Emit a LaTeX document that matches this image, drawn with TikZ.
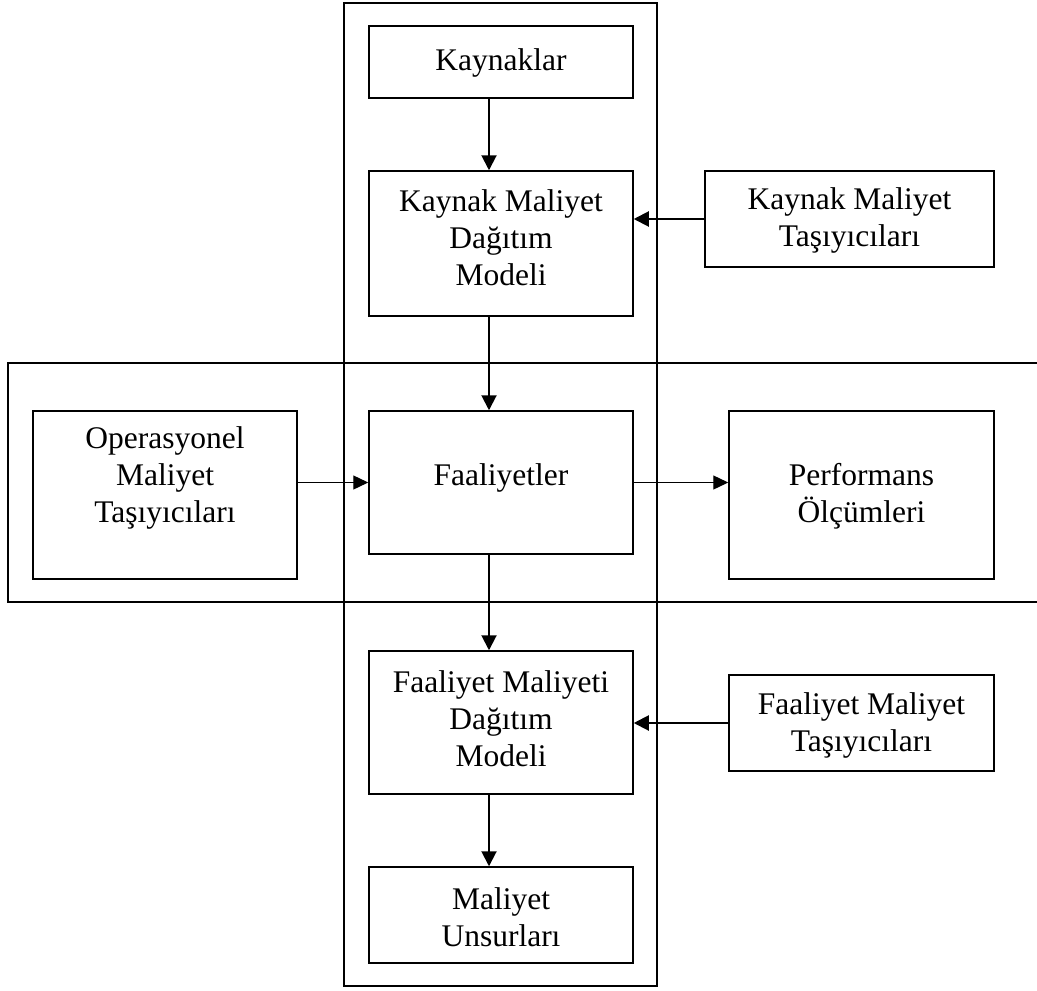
\documentclass[tikz,border=0pt]{standalone}
\usepackage{fontspec}
\setmainfont{Liberation Serif}
\usetikzlibrary{arrows.meta}

\begin{document}
\begin{tikzpicture}[x=0.5pt,y=-0.5pt,
  box/.style={draw, line width=0.75pt, inner sep=0pt},
  txt/.style={align=center, inner sep=0pt, font=\fontsize{15.75pt}{18.5pt}\selectfont},
  frame/.style={line width=0.7pt},
  flow/.style={line width=1pt, -{Triangle[length=7.5pt,width=7.5pt]}},
  thinflow/.style={line width=0.65pt, -{Triangle[length=7.5pt,width=7pt]}}]

\useasboundingbox (0,0) rectangle (1037,990);

% enclosing frames
\draw[frame] (344,3) rectangle (657,986);
\draw[frame] (1037,363) -- (8,363) -- (8,602) -- (1037,602);

% boxes
\node[box, minimum width=132pt,   minimum height=36pt]   (kay)  at (501,62)    {};
\node[box, minimum width=132pt,   minimum height=72.5pt] (kmdm) at (501,243.5) {};
\node[box, minimum width=144.5pt, minimum height=48pt]   (kmt)  at (849.5,219) {};
\node[box, minimum width=132pt,   minimum height=84pt]   (op)   at (165,495)   {};
\node[box, minimum width=132pt,   minimum height=71.5pt] (faal) at (501,482.5) {};
\node[box, minimum width=132.5pt, minimum height=84pt]   (perf) at (861.5,495) {};
\node[box, minimum width=132pt,   minimum height=71.5pt] (fmdm) at (501,722.5) {};
\node[box, minimum width=132.5pt, minimum height=48pt]   (fmt)  at (861.5,723) {};
\node[box, minimum width=132pt,   minimum height=48pt]   (mu)   at (501,915)   {};

% box texts
\node[txt] (kayT)  at (501,63)    {Kaynaklar};
\node[txt] (kmdmT) at (501,238)   {Kaynak Maliyet\\Dağıtım\\Modeli};
\node[txt] (kmtT)  at (849.5,220) {Kaynak Maliyet\\Taşıyıcıları};
\node[txt] (opT)   at (165,478)   {Operasyonel\\Maliyet\\Taşıyıcıları};
\node[txt] (faalT) at (501,478)   {Faaliyetler};
\node[txt] (perfT) at (861.5,496) {Performans\\Ölçümleri};
\node[txt] (fmdmT) at (501,719)   {Faaliyet Maliyeti\\Dağıtım\\Modeli};
\node[txt] (fmtT)  at (861.5,725) {Faaliyet Maliyet\\Taşıyıcıları};
\node[txt] (muT)   at (501,917)   {Maliyet\\Unsurları};

% vertical flow line
\coordinate (ax) at (489,0);
\draw[flow] (kay.south -| ax)  -- (kmdm.north -| ax);
\draw[flow] (kmdm.south -| ax) -- (faal.north -| ax);
\draw[flow] (faal.south -| ax) -- (fmdm.north -| ax);
\draw[flow] (fmdm.south -| ax) -- (mu.north -| ax);

% side inputs and outputs
\draw[flow] (kmt.west) -- (kmt.west -| kmdm.east);
\draw[flow] (fmt.west) -- (fmt.west -| fmdm.east);
\draw[thinflow] (op.east |- faal.west) -- (faal.west);
\draw[thinflow] (faal.east) -- (faal.east -| perf.west);
\end{tikzpicture}
\end{document}
